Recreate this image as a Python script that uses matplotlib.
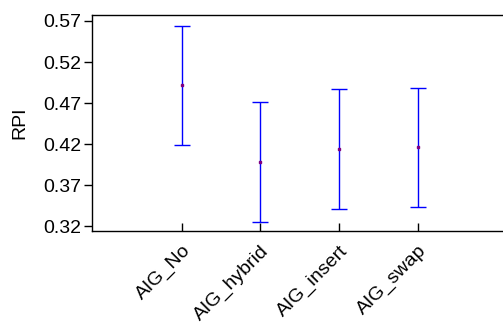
import matplotlib
matplotlib.use("Agg")
import matplotlib.pyplot as plt
import numpy as np

groups = ["AIG_No", "AIG_hybrid", "AIG_insert", "AIG_swap"]
means = [0.4918, 0.3985, 0.4140, 0.4160]
lower = [0.4188, 0.3255, 0.3406, 0.3434]
upper = [0.5644, 0.4719, 0.4869, 0.4890]
yticks = [0.32, 0.37, 0.42, 0.47, 0.52, 0.57]

plt.rcParams['font.family'] = ['Liberation Sans', 'DejaVu Sans']

fig = plt.figure(figsize=(5.03, 3.27), dpi=100)
W, H = 503, 327
left, right, top, bottom = 92, 510, 15, 231
ax = fig.add_axes([left / W, 1 - bottom / H, (right - left) / W, (bottom - top) / H])

x = np.arange(1, len(groups) + 1)
m = np.array(means)
err = np.vstack([m - np.array(lower), np.array(upper) - m])
ax.errorbar(x, m, yerr=err, fmt='none', ecolor='#0000ff', elinewidth=1.0,
            capsize=5.8, capthick=1.0)
ax.plot(x, m, linestyle='none', marker='s', markersize=1.5, color='#800080')

ax.set_ylim(0.3143, 0.5773)
ax.set_xlim(-0.14, -0.14 + (right - left) / 78.7)
ax.set_yticks(yticks)
ax.set_yticklabels([f"{v:.2f}" for v in yticks])
ax.set_xticks(x)
ax.set_xticklabels(groups, rotation=45, ha='right', rotation_mode='anchor')
ax.tick_params(axis='y', direction='out', length=6, width=1, labelsize=14, pad=1.5)
ax.tick_params(axis='x', direction='in', length=6, width=1, labelsize=14, pad=8)
ax.set_ylabel("RPI", fontsize=14, labelpad=11)
for s in ['left', 'bottom', 'top']:
    ax.spines[s].set_linewidth(1.0)
ax.spines['right'].set_visible(False)

fig.savefig("out.png", dpi=100)
